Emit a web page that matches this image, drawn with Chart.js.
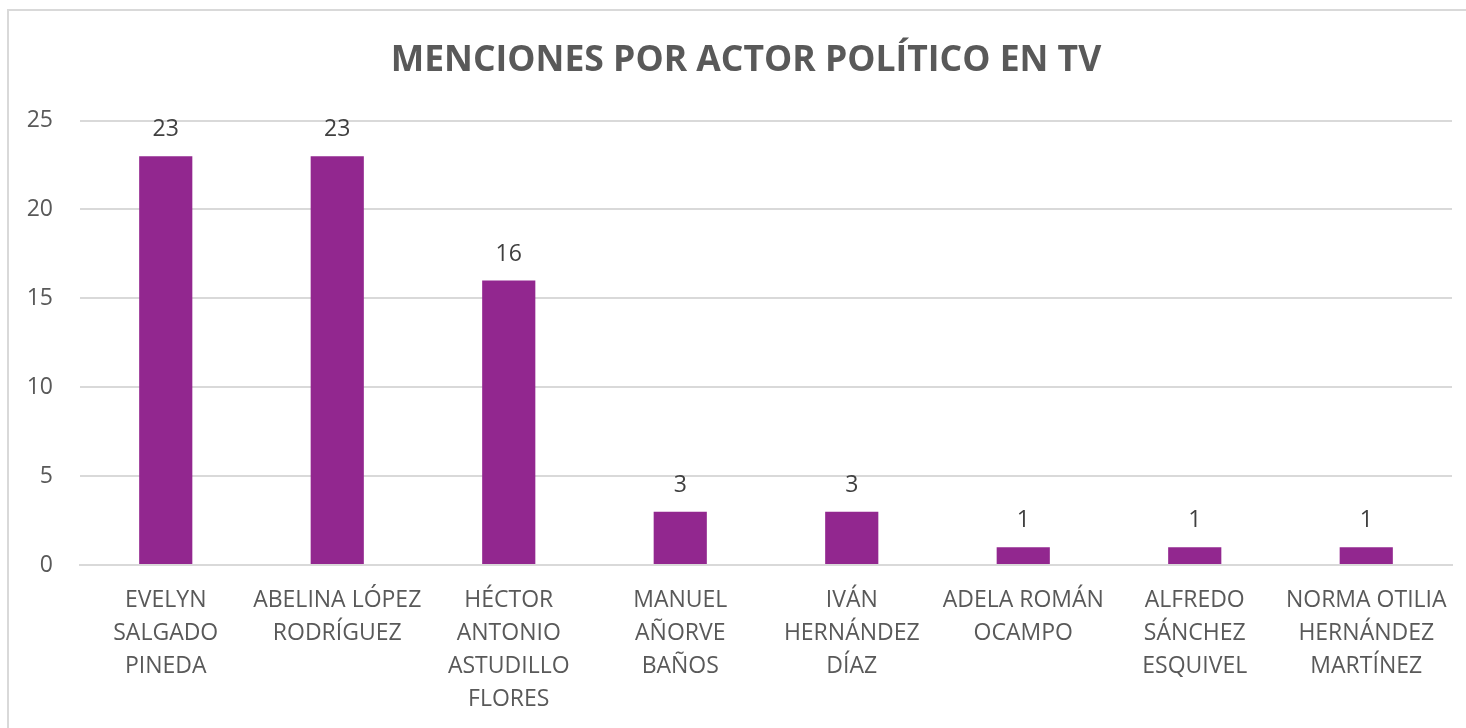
<!DOCTYPE html>
<html><head><meta charset="utf-8">
<script src="https://cdn.jsdelivr.net/npm/chart.js@4.4.1/dist/chart.umd.min.js"></script>
<style>
html,body{margin:0;padding:0;background:#fff;overflow:hidden;width:1466px;height:728px;}
#frame{position:absolute;left:7px;top:9px;width:1500px;height:760px;border:2px solid #d9d9d9;box-sizing:border-box;}
#wrap{position:absolute;left:0;top:0;width:1492px;height:728px;}
</style></head>
<body>
<div id="frame"></div>
<div id="wrap"><canvas id="c" width="1492" height="728"></canvas></div>
<script>
const titleText = 'MENCIONES POR ACTOR POLÍTICO EN TV';
const categories = [
  ['EVELYN','SALGADO','PINEDA'],
  ['ABELINA LÓPEZ','RODRÍGUEZ'],
  ['HÉCTOR','ANTONIO','ASTUDILLO','FLORES'],
  ['MANUEL','AÑORVE','BAÑOS'],
  ['IVÁN','HERNÁNDEZ','DÍAZ'],
  ['ADELA ROMÁN','OCAMPO'],
  ['ALFREDO','SÁNCHEZ','ESQUIVEL'],
  ['NORMA OTILIA','HERNÁNDEZ','MARTÍNEZ']
];
const mentions = [23, 23, 16, 3, 3, 1, 1, 1];
const yTicks = [0, 5, 10, 15, 20, 25];

const FONT = '"Open Sans", sans-serif';

const valueLabels = {
  id: 'valueLabels',
  afterDatasetsDraw(chart) {
    const ctx = chart.ctx;
    const meta = chart.getDatasetMeta(0);
    ctx.save();
    ctx.font = '23px ' + FONT;
    ctx.fillStyle = '#404040';
    ctx.textAlign = 'center';
    ctx.textBaseline = 'bottom';
    meta.data.forEach((bar, i) => {
      ctx.fillText(String(mentions[i]), bar.x, bar.y - 15);
    });
    ctx.restore();
  }
};

new Chart(document.getElementById('c'), {
  type: 'bar',
  data: {
    labels: categories,
    datasets: [{
      data: mentions,
      backgroundColor: '#92278F',
      borderWidth: 0,
      barPercentage: 0.31,
      categoryPercentage: 1.0
    }]
  },
  options: {
    responsive: false,
    animation: false,
    devicePixelRatio: 1,
    layout: { padding: 0 },
    plugins: {
      legend: { display: false },
      tooltip: { enabled: false },
      title: {
        display: true,
        text: titleText,
        color: '#595959',
        font: { family: FONT, size: 35.5, weight: 'bold', lineHeight: 1.2 },
        padding: { top: 40, bottom: 38 }
      }
    },
    scales: {
      x: {
        afterFit(scale) { scale.height = 163; },
        grid: { display: false, drawTicks: false },
        border: { display: true, color: '#d9d9d9', width: 2 },
        ticks: {
          color: '#595959',
          font: { family: FONT, size: 23, lineHeight: '33px' },
          padding: 19,
          maxRotation: 0,
          autoSkip: false
        }
      },
      y: {
        min: 0, max: 25,
        afterBuildTicks(scale) { scale.ticks = yTicks.map(v => ({ value: v })); },
        afterFit(scale) { scale.width = 80; },
        grid: { color: '#d9d9d9', lineWidth: 2, drawTicks: false },
        border: { display: false },
        ticks: {
          color: '#595959',
          font: { family: FONT, size: 23 },
          padding: 27
        }
      },
      yRight: {
        position: 'right',
        min: 0, max: 25,
        afterFit(scale) { scale.width = 40; },
        grid: { display: false, drawOnChartArea: false, drawTicks: false },
        border: { display: false },
        ticks: { display: false }
      }
    }
  },
  plugins: [valueLabels]
});
</script>
</body></html>
